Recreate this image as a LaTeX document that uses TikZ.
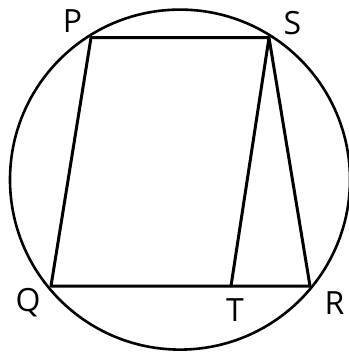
\documentclass[tikz,border=0pt]{standalone}
\usepackage{fontspec}
\setmainfont{Open Sans}
\begin{document}
\begin{tikzpicture}[x=1pt,y=-1pt,
  seg/.style={line width=3pt,line cap=round,line join=round},
  lbl/.style={inner sep=0pt,font=\fontsize{32}{32}\selectfont,text depth=0pt}]
\useasboundingbox (0,0) rectangle (348,353);
\node[draw,circle,line width=2.6pt,minimum size=340pt,inner sep=0pt] (c) at (180,179.6) {};
\coordinate (P) at (91,37.7);
\coordinate (S) at (269,37.7);
\coordinate (Q) at (51,286);
\coordinate (R) at (310,286);
\coordinate (T) at (231,286);
\draw[seg] (P) -- (S) -- (R) -- (Q) -- cycle;
\draw[seg] (S) -- (T);
\node[lbl] (lP) at (72.5,21.5) {P};
\node[lbl] (lS) at (292.5,22.5) {S};
\node[lbl] (lQ) at (28,299.5) {Q};
\node[lbl] (lT) at (235,310.5) {T};
\node[lbl] (lR) at (334.5,303) {R};
\end{tikzpicture}
\end{document}
